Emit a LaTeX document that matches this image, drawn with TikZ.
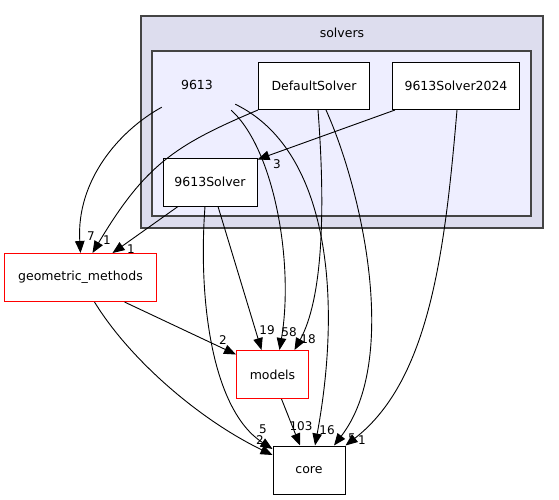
\documentclass[tikz,border=0pt]{standalone}
\usepackage{fontspec}
\setmainfont{DejaVu Sans}
\usetikzlibrary{arrows.meta}
\definecolor{outerfill}{HTML}{DDDDEE}
\definecolor{innerfill}{HTML}{EEEEFF}
\definecolor{clusterline}{HTML}{444444}
\tikzset{
    dirbox/.style={draw, fill=white, line width=1pt, minimum height=47pt, inner sep=0pt,
        font=\fontsize{12.5}{14}\selectfont},
    redbox/.style={dirbox, draw=red},
    cluster/.style={draw=clusterline, line width=1.4pt},
    dep/.style={->, line width=0.9pt},
    num/.style={font=\fontsize{12}{14}\selectfont, inner sep=0pt},
}
\begin{document}
\begin{tikzpicture}[x=1pt, y=-1pt, >={Triangle[length=12pt, width=9.5pt]}]
    \useasboundingbox (0,0) rectangle (559,500);

    % solvers cluster
    \draw[cluster, fill=outerfill] (141,16) rectangle (543,228);
    \node[font=\fontsize{12.5}{14}\selectfont] (solvers) at (342,33) {solvers};
    \draw[cluster, fill=innerfill] (152,51) rectangle (531,216);
    \node[font=\fontsize{12.5}{14}\selectfont, minimum width=80pt, minimum height=44pt] (d9613) at (197,85) {9613};

    \node[dirbox, minimum width=111pt] (dsolver) at (314,86) {DefaultSolver};
    \node[dirbox, minimum width=127pt] (s2024) at (456,86) {9613Solver2024};
    \node[dirbox, minimum width=94pt, minimum height=48pt] (s9613) at (210,182) {9613Solver};

    \node[redbox, minimum width=152pt, minimum height=48pt] (geo) at (80.5,277.5) {geometric\_methods};
    \node[redbox, minimum width=72pt, minimum height=48pt] (models) at (272.5,374.5) {models};
    \node[dirbox, minimum width=72pt, minimum height=48pt] (core) at (309,470) {core};

    % dependencies
    \draw[dep] ([xshift=5pt]d9613.south west)
        .. controls (120,130) and (76,180) .. (geo.north);
    \draw[dep] (dsolver.south west)
        .. controls (175,145) and (145,165) .. ([xshift=12pt]geo.north);
    \draw[dep] ([xshift=-32pt]s9613.south) -- ([xshift=32pt]geo.north);
    \draw[dep] ([xshift=-61pt]s2024.south) -- ([yshift=-2pt]s9613.north east);
    \draw[dep] ([xshift=8pt]s9613.south) -- ([xshift=-11pt]models.north);
    \draw[dep] ([xshift=-5pt]s9613.south)
        .. controls (198,300) and (212,410) .. ([yshift=21pt]core.west);
    \draw[dep] ([xshift=-6pt, yshift=-3pt]d9613.south east)
        .. controls (275,150) and (294,265) .. ([xshift=7pt]models.north);
    \draw[dep] ([xshift=-2pt, yshift=3pt]d9613.south east)
        .. controls (330,150) and (342,300) .. ([xshift=6pt]core.north);
    \draw[dep] ([xshift=4pt]dsolver.south)
        .. controls (326,215) and (322,300) .. ([xshift=22pt]models.north);
    \draw[dep] ([xshift=12pt]dsolver.south)
        .. controls (362,190) and (400,360) .. ([xshift=25pt]core.north);
    \draw[dep] ([xshift=1pt]s2024.south)
        .. controls (445,250) and (430,380) .. (core.north east);
    \draw[dep] ([xshift=44pt]geo.south) -- ([yshift=20pt]models.west);
    \draw[dep] ([xshift=14pt]geo.south)
        .. controls (130,360) and (200,420) .. ([yshift=15pt]core.west);
    \draw[dep] ([xshift=9pt]models.south) -- ([xshift=-9pt]core.north);

    % counts
    \node[num] (n7) at (91,236) {7};
    \node[num] (n1a) at (107,240) {1};
    \node[num] (n1b) at (131,249) {1};
    \node[num] (n3) at (277,164) {3};
    \node[num] (n19) at (267,330) {19};
    \node[num] (n58) at (289,332) {58};
    \node[num] (n18) at (308,339) {18};
    \node[num] (n2a) at (223,340) {2};
    \node[num] (n103) at (301,426) {103};
    \node[num] (n16) at (327,430) {16};
    \node[num] (n5a) at (352,438) {5};
    \node[num] (n1c) at (362,440) {1};
    \node[num] (n5b) at (263,429) {5};
    \node[num] (n2b) at (260,440) {2};
\end{tikzpicture}
\end{document}
